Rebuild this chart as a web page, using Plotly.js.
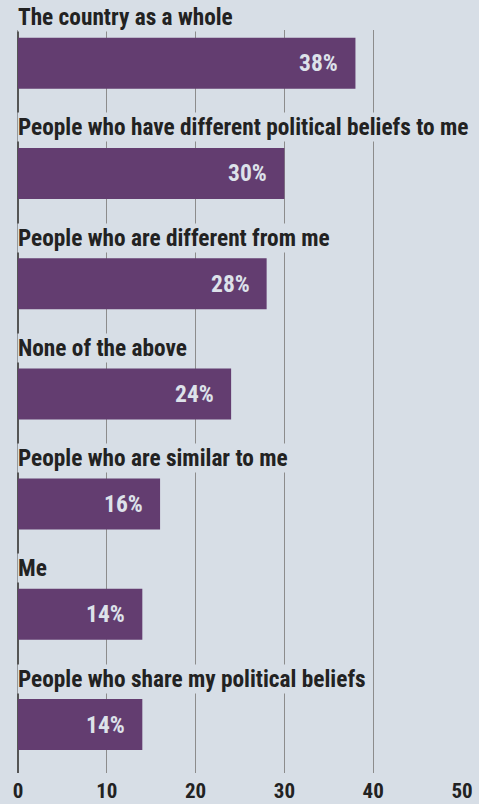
<!DOCTYPE html>
<html>
<head>
<meta charset="utf-8">
<script src="https://cdn.plot.ly/plotly-3.0.1.min.js"></script>
<style>
html,body{margin:0;padding:0;background:#d7dee6;}
#chart{width:479px;height:804px;}
</style>
</head>
<body>
<div id="chart"></div>
<script>
const categories = [
  "The country as a whole",
  "People who have different political beliefs to me",
  "People who are different from me",
  "None of the above",
  "People who are similar to me",
  "Me",
  "People who share my political beliefs"
];
const values = [38, 30, 28, 24, 16, 14, 14];
const valueLabels = ["38%", "30%", "28%", "24%", "16%", "14%", "14%"];
const xTicks = [0, 10, 20, 30, 40, 50];

const FONT = '"Roboto Condensed", "Liberation Sans Narrow", "DejaVu Sans Condensed", Roboto, sans-serif';
const BG = '#d7dee6';
const BAR = '#633d70';

const annotations = [];
categories.forEach((c, i) => {
  annotations.push({
    x: 0, y: c, xref: 'x', yref: 'y',
    xanchor: 'left', yanchor: 'middle', yshift: 46, xshift: -1,
    text: c, showarrow: false,
    bgcolor: BG, borderpad: 0,
    font: {family: FONT, size: 23.3, color: '#222222', weight: 'bold'}
  });
  annotations.push({
    x: values[i], y: c, xref: 'x', yref: 'y',
    xanchor: 'right', yanchor: 'middle', xshift: -15,
    text: valueLabels[i], showarrow: false,
    font: {family: FONT, size: 23.5, color: '#dde2ea', weight: 'bold'}
  });
});

const data = [{
  type: 'bar',
  orientation: 'h',
  x: values,
  y: categories,
  width: 0.463,
  marker: {color: BAR},
  hoverinfo: 'skip'
}];

const layout = {
  width: 479, height: 804,
  paper_bgcolor: BG, plot_bgcolor: BG,
  margin: {l: 17.5, r: 17, t: 30, b: 31, pad: 0},
  showlegend: false,
  xaxis: {
    range: [0, 50],
    tickvals: xTicks,
    ticktext: xTicks.map(String),
    showgrid: true, gridcolor: '#8c8c8c', gridwidth: 1,
    zeroline: true, zerolinecolor: '#555555', zerolinewidth: 1.5,
    showline: false, ticks: '',
    tickfont: {family: FONT, size: 21, color: '#222222', weight: 'bold'},
    ticklabelstandoff: 3,
    fixedrange: true
  },
  yaxis: {
    type: 'category',
    categoryorder: 'array', categoryarray: categories,
    range: [6.44, -0.302],
    showticklabels: false, showgrid: false, zeroline: false, ticks: '',
    fixedrange: true
  },
  annotations: annotations,
  font: {family: FONT}
};

Plotly.newPlot('chart', data, layout, {displayModeBar: false, staticPlot: true});
</script>
</body>
</html>
